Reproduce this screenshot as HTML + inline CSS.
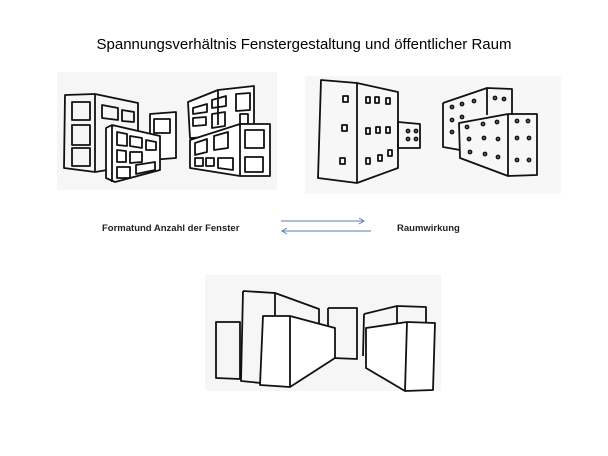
<!DOCTYPE html>
<html><head><meta charset="utf-8"><style>
html,body{margin:0;padding:0;background:#fff;width:608px;height:456px;overflow:hidden}
svg{display:block}
text{font-family:"Liberation Sans",sans-serif}
</style></head><body>
<svg width="608" height="456" viewBox="0 0 608 456" xmlns="http://www.w3.org/2000/svg">
<text x="304" y="49" font-size="15" text-anchor="middle" fill="#000">Spannungsverhältnis Fenstergestaltung und öffentlicher Raum</text>
<rect x="57" y="72" width="220" height="118" fill="#f6f6f6"/>
<rect x="305" y="76" width="256" height="118" fill="#f7f7f7"/>
<rect x="205" y="275" width="236" height="116" fill="#f6f6f6"/>
<g fill="none" stroke="#111" stroke-width="1.8" stroke-linejoin="round">
<!-- left group -->
<path d="M65 95 L95 94 L138 103 L138 165 L95 172 L64 168 Z M95 94 L95 172"/>
<rect x="72" y="102" width="18" height="18"/><rect x="72" y="125" width="18" height="20"/><rect x="72" y="148" width="18" height="18"/>
<path d="M102 105 L118 108 L118 120 L102 118 Z M122 110 L134 112 L134 122 L122 121 Z"/>
<path d="M150 114 L176 112 L176 158 L150 160 Z" fill="#fff"/><rect x="154" y="119" width="16" height="14"/>
<path d="M106 128 L112 125 L160 136 L160 170 L115 182 L106 178 Z M112 125 L112 182" fill="#fff"/>
<path d="M117 132 L127 134 L127 146 L117 145 Z M130 136 L142 138 L142 148 L130 146 Z M146 140 L156 142 L156 150 L146 150 Z M117 150 L126 151 L126 162 L117 162 Z M130 152 L142 152 L142 162 L130 163 Z M117 167 L130 167 L130 178 L117 178 Z M136 165 L155 162 L155 170 L136 174 Z"/>
<path d="M188 102 L218 90 L254 86 L254 135 L190 138 Z M218 90 L218 125" fill="#fff"/>
<path d="M193 108 L207 104 L207 112 L193 114 Z M212 100 L226 96 L226 106 L212 108 Z M236 94 L250 93 L250 110 L236 111 Z M193 118 L206 117 L206 125 L193 126 Z M212 114 L225 112 L225 126 L212 128 Z M240 114 L248 114 L248 124 L240 124 Z"/>
<path d="M190 140 L240 124 L270 124 L270 176 L240 176 L190 168 Z M240 124 L240 176" fill="#fff"/>
<path d="M195 143 L207 139 L207 152 L195 155 Z M214 136 L228 132 L228 148 L214 150 Z M245 130 L264 130 L264 148 L245 148 Z M195 158 L203 158 L203 166 L195 166 Z M206 158 L214 158 L214 166 L206 166 Z M218 158 L233 158 L233 170 L218 168 Z M245 157 L263 157 L263 172 L245 172 Z"/>
<!-- right group -->
<path d="M321 80 L357 83 L357 183 L318 178 Z M357 83 L398 92 L398 168 L357 183"/>
<path d="M343 96 h5 v6 h-5 Z M342 125 h5 v6 h-5 Z M340 158 h5 v6 h-5 Z M366 97 h4 v6 h-4Z M375 97 h4 v6 h-4Z M386 98 h4 v6 h-4Z M366 128 h4v6h-4Z M376 127 h4v6h-4Z M386 127 h4v6h-4Z M366 158 h4v6h-4Z M378 155 h4v6h-4Z M388 150 h4v6h-4Z"/>
<path d="M398 122 L420 124 L420 148 L398 148 Z"/>
<circle cx="408" cy="131" r="1.5"/><circle cx="416" cy="131" r="1.5"/><circle cx="408" cy="139" r="1.5"/><circle cx="416" cy="139" r="1.5"/>
<path d="M443 103 L487 88 L512 89 L512 115 M443 103 L443 147 L460 150 M487 88 L487 115"/>
<circle cx="452" cy="107" r="1.5"/><circle cx="462" cy="104" r="1.5"/><circle cx="474" cy="101" r="1.5"/><circle cx="495" cy="98" r="1.5"/><circle cx="504" cy="99" r="1.5"/><circle cx="452" cy="120" r="1.5"/><circle cx="462" cy="117" r="1.5"/><circle cx="452" cy="132" r="1.5"/>
<path d="M459 123 L508 114 L537 114 L537 175 L508 176 L460 158 Z M508 114 L508 176"/>
<g><circle cx="467" cy="127" r="1.5"/><circle cx="483" cy="124" r="1.5"/><circle cx="497" cy="122" r="1.5"/><circle cx="517" cy="121" r="1.5"/><circle cx="528" cy="121" r="1.5"/><circle cx="469" cy="139" r="1.5"/><circle cx="484" cy="138" r="1.5"/><circle cx="498" cy="139" r="1.5"/><circle cx="517" cy="138" r="1.5"/><circle cx="529" cy="138" r="1.5"/><circle cx="470" cy="152" r="1.5"/><circle cx="485" cy="154" r="1.5"/><circle cx="498" cy="157" r="1.5"/><circle cx="517" cy="160" r="1.5"/><circle cx="529" cy="160" r="1.5"/></g>
<!-- bottom -->
<path d="M216 322 L240 322 L240 379 L216 378 Z"/>
<path d="M243 291 L275 293 L275 318 M243 291 L241 381 L261 383"/>
<path d="M275 293 L319 309 L319 323"/>
<path d="M328 308 L357 308 L357 359 L333 358 L333 330 M328 308 L328 326"/>
<path d="M263 316 L290 316 L335 328 L335 358 L290 387 L260 385 Z M290 316 L290 387" fill="#fff"/>
<path d="M364 314 L397 306 L426 307 L426 324 M364 314 L363 356 M397 306 L397 325"/>
<path d="M366 328 L407 322 L435 323 L433 390 L405 391 L366 368 Z M407 322 L405 391" fill="#fff"/>
</g>
<text x="102" y="231" font-size="9.5" font-weight="bold" fill="#222">Formatund Anzahl  der Fenster</text>
<text x="397" y="231" font-size="9.5" font-weight="bold" fill="#222">Raumwirkung</text>
<g stroke="#5a7fb0" stroke-width="1" fill="none">
<path d="M281 221 H364 M359 218 L364 221 L359 224"/>
<path d="M371 231 H282 M287 228 L282 231 L287 234"/>
</g>
</svg>
</body></html>
